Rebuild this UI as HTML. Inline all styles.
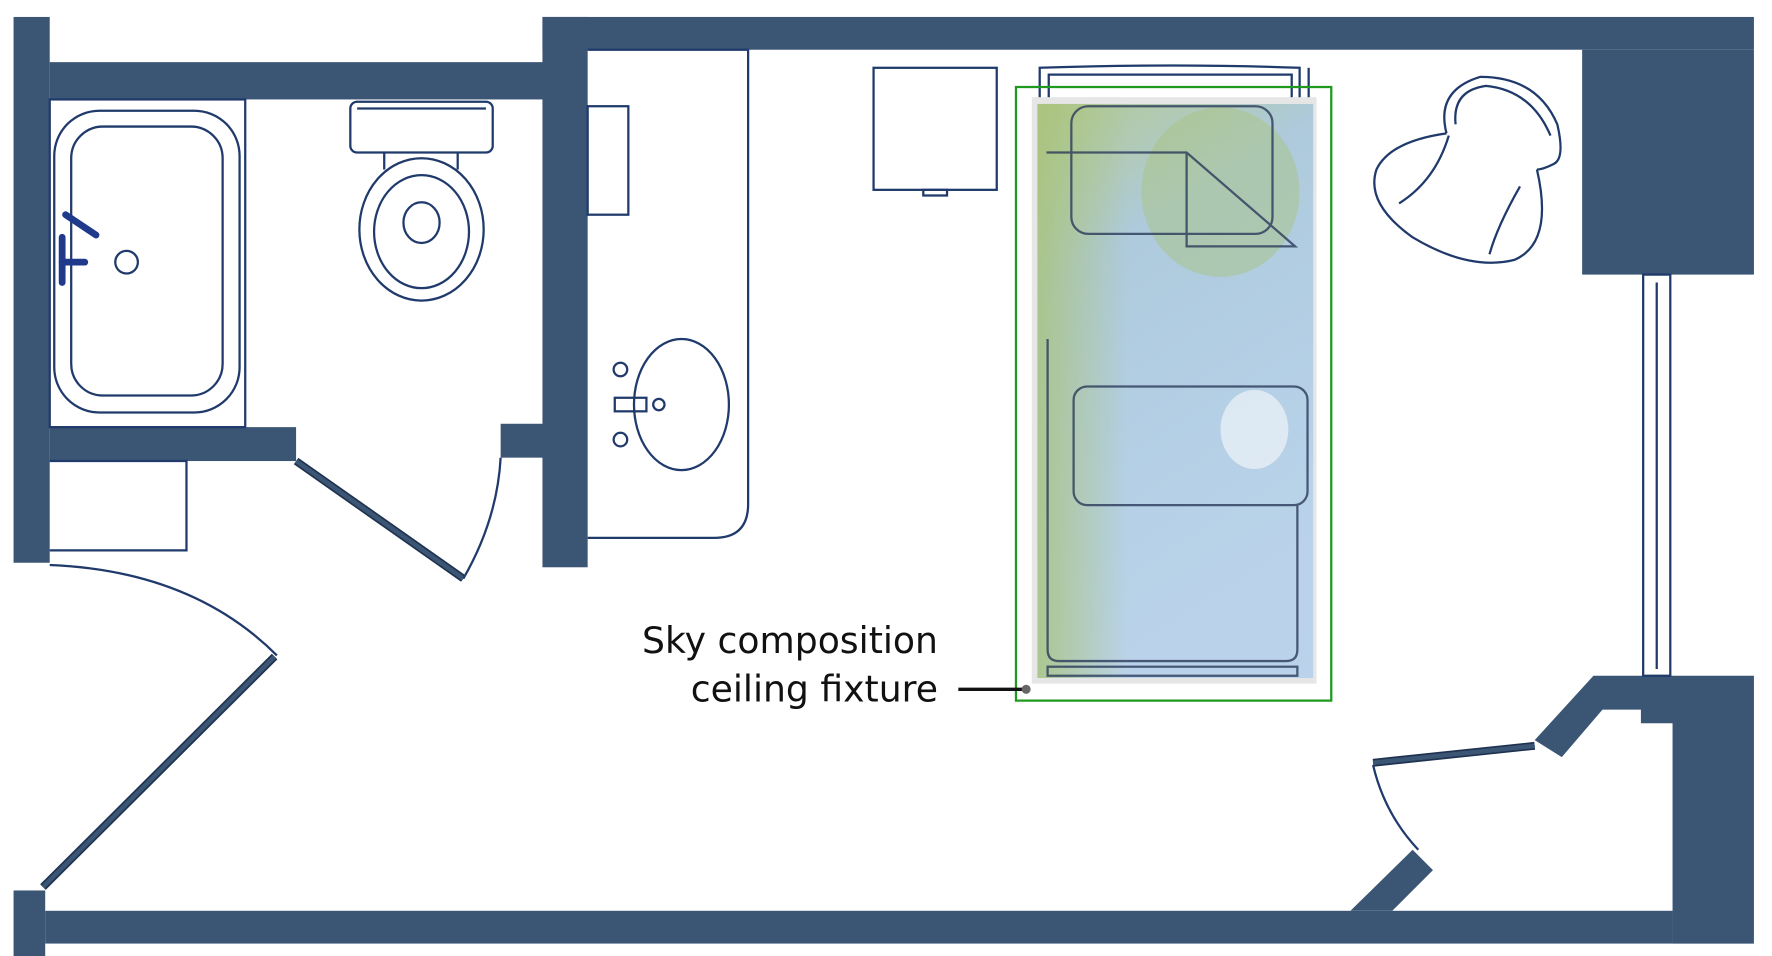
<!DOCTYPE html>
<html><head><meta charset="utf-8"><style>
html,body{margin:0;padding:0;background:#fff;}
svg{display:block;}
</style></head><body>
<svg width="1772" height="956" viewBox="0 0 1568 846" preserveAspectRatio="none" xmlns="http://www.w3.org/2000/svg">
<defs>
<linearGradient id="sky" x1="0" y1="0" x2="0.3" y2="1">
<stop offset="0" stop-color="#b3c98e"/>
<stop offset="0.3" stop-color="#aecadc"/>
<stop offset="0.7" stop-color="#b5d0e6"/>
<stop offset="1" stop-color="#bad3ea"/>
</linearGradient>
<linearGradient id="leaf" x1="0" y1="0" x2="1" y2="0">
<stop offset="0" stop-color="#a9c37a" stop-opacity="0.8"/>
<stop offset="1" stop-color="#a9c37a" stop-opacity="0"/>
</linearGradient>
</defs>
<g fill="#3b5574">
<rect x="12" y="15" width="32" height="483"/>
<rect x="44" y="55" width="440" height="33"/>
<rect x="480" y="15" width="1072" height="29"/>
<rect x="480" y="15" width="40" height="487"/>
<rect x="443" y="375" width="40" height="30"/>
<rect x="44" y="378" width="218" height="30"/>
<rect x="1400" y="44" width="152" height="199"/>
<polygon points="1410,598 1552,598 1552,835 1480,835 1480,640 1452,640 1452,628 1418,628 1382,670 1358,655"/>
<rect x="40" y="806" width="1440" height="29"/>
<rect x="12" y="788" width="28" height="58"/>
<polygon points="1195,806 1250,752 1268,770 1232,806"/>
</g>
<!-- door leaves (thick filled) -->
<g stroke="#1f3350" stroke-width="7" stroke-linecap="butt" fill="none">
<line x1="243" y1="581" x2="38" y2="785"/>
<line x1="1215" y1="675" x2="1358" y2="660"/>
<line x1="262" y1="408" x2="410" y2="512"/>
</g>
<g stroke="#3b5574" stroke-width="4" fill="none">
<line x1="243" y1="581" x2="38" y2="785"/>
<line x1="1215" y1="675" x2="1358" y2="660"/>
<line x1="262" y1="408" x2="410" y2="512"/>
</g>
<g fill="none" stroke="#1f3a6b" stroke-width="2">
<rect x="1454" y="243" width="24" height="355"/>
<line x1="1466" y1="250" x2="1466" y2="592"/>
<path d="M44,500 Q170,505 245,580"/>
<path d="M1215,677 Q1225,720 1255,752"/>
<rect x="44" y="88" width="173" height="290" fill="#fff"/>
<rect x="48" y="98" width="164" height="267" rx="40"/>
<rect x="63" y="112" width="134" height="238" rx="28"/>
<circle cx="112" cy="232" r="10"/>
<rect x="310" y="90" width="126" height="45" rx="6"/>
<line x1="316" y1="96" x2="430" y2="96"/>
<path d="M340,135 L340,150 M405,135 L405,150"/>
<ellipse cx="373" cy="203" rx="55" ry="63"/>
<ellipse cx="373" cy="205" rx="42" ry="50"/>
<ellipse cx="373" cy="197" rx="16" ry="18"/>
<path d="M520,44 L662,44 L662,446 Q662,476 632,476 L520,476"/>
<rect x="520" y="94" width="36" height="96"/>
<ellipse cx="603" cy="358" rx="42" ry="58"/>
<circle cx="549" cy="327" r="6"/><circle cx="549" cy="389" r="6"/><circle cx="583" cy="358" r="5"/>
<rect x="544" y="352" width="28" height="12"/>
<path d="M410,512 Q440,460 443,405"/>
<path d="M44,408 L165,408 L165,487 L44,487"/>
<rect x="773" y="60" width="109" height="108"/>
<rect x="817" y="168" width="21" height="5"/>
<path d="M920,90 L920,60 Q1040,56 1150,60 L1150,90"/>
<path d="M928,90 L928,66 L1143,66 L1143,90"/>
<line x1="1158" y1="60" x2="1158" y2="90"/>
<path d="M1280,118 Q1230,125 1218,150 Q1208,180 1250,210 Q1300,240 1340,230 Q1375,215 1360,150"/>
<path d="M1280,118 Q1270,80 1310,68 Q1360,68 1378,110 Q1385,140 1375,145 Q1365,150 1360,150"/>
<path d="M1288,110 Q1285,80 1315,76 Q1355,80 1372,120"/>
<path d="M1282,120 Q1270,160 1238,180"/>
<path d="M1345,165 Q1325,200 1318,225"/>
</g>
<g stroke="#1f3a8b" stroke-width="6" stroke-linecap="round" fill="none">
<line x1="58" y1="190" x2="85" y2="208"/>
<line x1="55" y1="210" x2="55" y2="250"/>
<line x1="55" y1="232" x2="75" y2="232"/>
</g>
<rect x="913" y="86" width="252" height="519" fill="#e6e6e6"/>
<rect x="918" y="92" width="244" height="508" fill="url(#sky)"/>
<rect x="918" y="92" width="80" height="508" fill="url(#leaf)"/>
<ellipse cx="1080" cy="170" rx="70" ry="75" fill="#a9c37a" opacity="0.45"/>
<ellipse cx="1110" cy="380" rx="30" ry="35" fill="#eef3f8" opacity="0.7"/>
<g fill="none" stroke="#2a3a5a" stroke-width="2" opacity="0.8">
<rect x="948" y="94" width="178" height="113" rx="15"/>
<path d="M926,135 L1050,135 L1146,218 L1050,218 L1050,135"/>
<rect x="950" y="342" width="207" height="105" rx="12"/>
<path d="M927,300 L927,575 Q927,585 937,585 L1138,585 Q1148,585 1148,575 L1148,447"/>
<rect x="927" y="590" width="221" height="8"/>
</g>
<rect x="899" y="77" width="279" height="543" fill="none" stroke="#1f9a1f" stroke-width="2"/>
<g font-family="'DejaVu Sans','Liberation Sans',sans-serif" font-size="32" fill="#111" text-anchor="end">
<text x="830" y="578">Sky composition</text>
<text x="830" y="621">ceiling fixture</text>
</g>
<line x1="848" y1="610" x2="906" y2="610" stroke="#111" stroke-width="3"/>
<circle cx="908" cy="610" r="4" fill="#666"/>
</svg>
</body></html>
